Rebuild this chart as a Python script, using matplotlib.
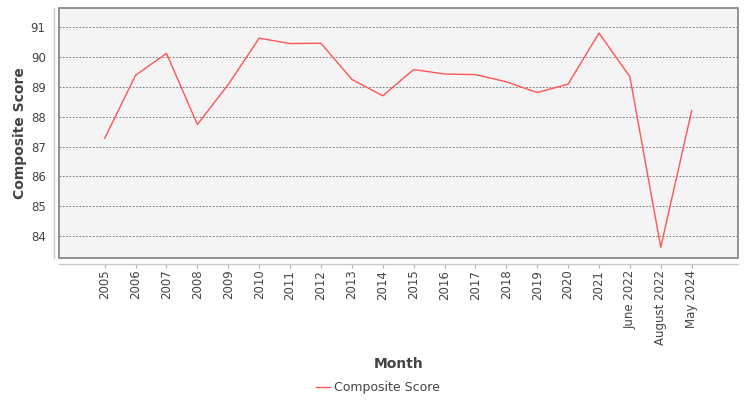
import matplotlib
matplotlib.use("Agg")
import matplotlib.pyplot as plt
from matplotlib.patches import Rectangle

categories = ["2005", "2006", "2007", "2008", "2009", "2010", "2011", "2012", "2013",
              "2014", "2015", "2016", "2017", "2018", "2019", "2020", "2021",
              "June 2022", "August 2022", "May 2024"]
scores = [87.28, 89.39, 90.12, 87.74, 89.08, 90.63, 90.45, 90.46, 89.25,
          88.70, 89.58, 89.43, 89.41, 89.17, 88.81, 89.09, 90.80,
          89.34, 83.63, 88.20]
y_ticks = [84, 85, 86, 87, 88, 89, 90, 91]
series_name = "Composite Score"

plt.rcParams['font.family'] = ['DejaVu Sans']

fig = plt.figure(figsize=(7.5, 4), dpi=100)
ax = fig.add_axes([59.3 / 750, 1 - 258 / 400, (738 - 59.3) / 750, 250 / 400])
ax.set_facecolor('#f4f4f4')

x = list(range(len(categories)))
line, = ax.plot(x, scores, color='#ff5555', lw=1.0, label=series_name, zorder=3)

ax.set_xlim(-1.47, 20.5)
ax.set_ylim(83.27, 91.64)
ax.set_yticks(y_ticks)
ax.set_yticklabels([str(t) for t in y_ticks])
ax.set_xticks(x)
ax.set_xticklabels(categories)

ax.grid(axis='y', color='#666666', lw=0.6, linestyle=(0, (2, 2)))
ax.grid(axis='x', visible=False)
ax.set_axisbelow(True)

for s in ['top', 'right']:
    ax.spines[s].set_visible(False)
for s in ['left', 'bottom']:
    ax.spines[s].set_position(('outward', 4))
    ax.spines[s].set_color('#c8c8c8')
    ax.spines[s].set_linewidth(1.0)

ax.add_patch(Rectangle((0, 0), 1, 1, transform=ax.transAxes, fill=False,
                       edgecolor='#808080', lw=1.2, clip_on=False, zorder=4))

ax.tick_params(axis='y', length=0, pad=8 * 0.72, labelsize=8.5, labelcolor='#444444')
ax.tick_params(axis='x', length=4 * 0.72, width=0.8, color='#b0b0b0', pad=1.5,
               labelsize=8.5, labelcolor='#444444', labelrotation=90)

ax.set_xlabel('Month', fontsize=10, fontweight='bold', color='#444444')
ax.xaxis.set_label_coords(0.5, (258 - 364) / 250)
ax.xaxis.label.set_va('center')
ax.set_ylabel('Composite Score', fontsize=10, fontweight='bold', color='#444444')
ax.yaxis.set_label_coords((20 - 59.3) / 678.7, 0.5)
ax.yaxis.label.set_va('center')
ax.yaxis.label.set_ha('center')

fig.legend(handles=[line], labels=[series_name], loc='center',
           bbox_to_anchor=(378 / 750, 1 - 387.7 / 400), frameon=False,
           fontsize=9, handlelength=1.1, handletextpad=0.35,
           labelcolor='#444444')

fig.savefig('out.png', dpi=100)
